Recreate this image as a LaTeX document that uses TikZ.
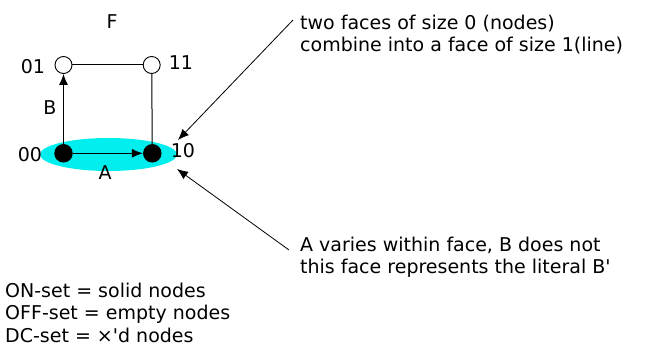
\documentclass[tikz,border=0pt]{standalone}
\usepackage{fontspec}
\setmainfont{DejaVu Sans}
\newfontfamily\nf{DejaVu Sans}
\usetikzlibrary{arrows.meta,shapes.geometric}
\definecolor{aqua}{RGB}{0,238,238}
\begin{document}
\begin{tikzpicture}[x=1pt,y=-1pt,
  lbl/.style={font=\fontsize{19}{22}\selectfont, inner sep=0pt},
  note/.style={font=\nf\fontsize{19}{22.5}\selectfont, inner sep=0pt, align=left},
  offn/.style={circle, draw, fill=white, line width=0.9pt, minimum size=17pt, inner sep=0pt},
  onn/.style={circle, fill=black, minimum size=18.5pt, inner sep=0pt},
  arr/.style={line width=1pt, -{Latex[length=11pt,width=9pt]}},
  edge/.style={line width=1pt}]
\useasboundingbox (0,0) rectangle (645,355);
\node[ellipse, fill=aqua, minimum width=137pt, minimum height=33pt, inner sep=0pt] (face) at (108.5,154.5) {};
\node[offn] (n01) at (63.5,65) {};
\node[offn] (n11) at (151.7,65) {};
\node[onn] (n00) at (63.5,153.3) {};
\node[onn] (n10) at (152.3,153.3) {};
\draw[edge] (n01) -- (n11);
\draw[edge] (n11) -- (n10);
\draw[arr] (n00) -- (n01);
\draw[arr] (n00) -- (n10);
\node[lbl] (F) at (112,22) {F};
\node[lbl] (l01) at (33,67) {01};
\node[lbl] (l11) at (181,63) {11};
\node[lbl] (l00) at (30,155) {00};
\node[lbl] (l10) at (183,151) {10};
\node[lbl] (lB) at (50,108) {B};
\node[lbl] (lA) at (105,173) {A};
\node[note, anchor=base west] (t1) at (300,52) {two faces of size 0 (nodes)\\combine into a face of size 1(line)};
\node[note, anchor=base west] (t2) at (300,274) {A varies within face, B does not\\this face represents the literal B'};
\node[note, anchor=base west] (t3) at (5,342) {ON-set = solid nodes\\OFF-set = empty nodes\\DC-set = ×'d nodes};
\coordinate (s1) at (293,20);
\coordinate (e1) at (178,140);
\coordinate (s2) at (289,250);
\coordinate (e2) at (177,169);
\draw[arr, line width=0.8pt] (s1) -- (e1);
\draw[arr, line width=0.8pt] (s2) -- (e2);
\end{tikzpicture}
\end{document}
